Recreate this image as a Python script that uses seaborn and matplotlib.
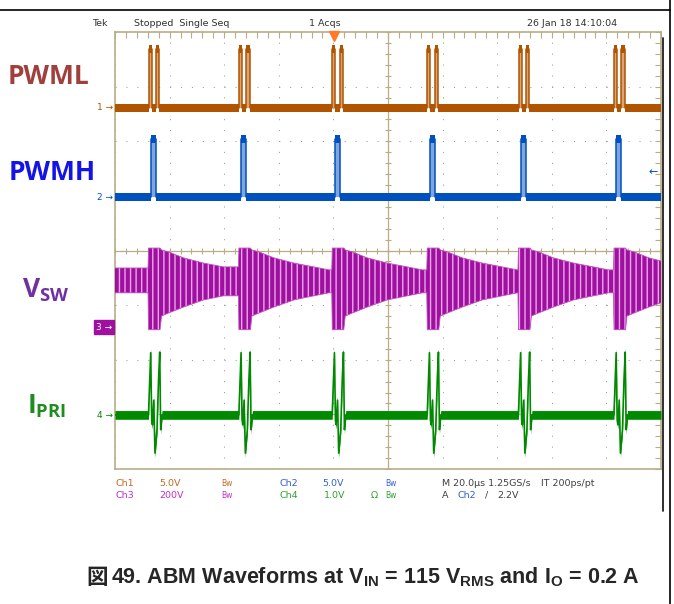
import numpy as np
import seaborn as sns
import matplotlib.pyplot as plt
from matplotlib.lines import Line2D

# ---- values read off the scope shot ----
# switching events, div from the left edge of the screen (centre of each PWMH pulse)
event_div = [0.705, 2.36, 4.07, 5.81, 7.48, 9.23]
trigger_div = 4.01

# ground level of each trace (div from screen centre) and volts per div
ch_pos = [2.61, 0.98, -1.40, -3.01]
ch_vdiv = [5.0, 5.0, 200.0, 1.0]

# PWML: two short pulses around every event (start / end offset in div)
pwml_start = [-0.088, 0.046]
pwml_end = [-0.033, 0.106]
pwml_high = 5.4
pwml_noise = 0.34

# PWMH: one pulse per event, between the two PWML pulses
pwmh_start = [-0.046]
pwmh_end = [0.046]
pwmh_high = 5.3
pwmh_noise = 0.34

# VSW ringing envelope after each event (offset in div, volts)
vsw_t = [0.147, 0.275, 0.55, 0.916, 1.28, 1.56]
vsw_top = [282, 275, 253, 234, 220, 209]
vsw_bot = [40, 51, 73, 99, 114, 125]
vsw_idle = [125, 216]       # bottom / top before the first burst
vsw_swing = [-10, 289]      # full swing while switching
vsw_swing_t = [-0.09, 0.12]

# IPRI spike around each event (offset in div, volts on ch4)
ipri_t = [-0.092, -0.051, -0.033, -0.020, 0.005, 0.027, 0.064, 0.092, 0.114, 0.132, 0.156]
ipri_v = [0.0, 1.14, -0.09, -0.18, 0.27, -0.70, -0.27, 0.64, 1.15, -0.27, 0.0]
ipri_noise = 0.08

# readout text
header = ["Tek", "Stopped  Single Seq", "1 Acqs", "26 Jan 18 14:10:04"]

sns.set_style("white")
plt.rcParams['font.family'] = ['DejaVu Sans']
plt.rcParams['mathtext.fontset'] = 'custom'
plt.rcParams['mathtext.rm'] = 'Liberation Sans:bold'
plt.rcParams['mathtext.bf'] = 'Open Sans:bold'
plt.rcParams['hatch.linewidth'] = 1.0

W, H = 674, 604


def fx(px):
    return px / W


def fy(py):
    return 1 - py / H


C1, C2, C3, C4 = '#b05400', '#0050c0', '#a010a0', '#008a00'
TAN = '#b8ae86'

fig = plt.figure(figsize=(W / 100, H / 100), dpi=100)
ax = fig.add_axes([fx(115), fy(469), 546 / W, 437 / H])
ax.set_xlim(0, 10)
ax.set_ylim(-4, 4)

# graticule
ax.set_xticks(np.arange(0, 11, 1))
ax.set_yticks(np.arange(-4, 5, 1))
ax.set_xticks(np.arange(0, 10.01, 0.2), minor=True)
ax.set_yticks(np.arange(-4, 4.01, 0.2), minor=True)
ax.tick_params(which='both', direction='in', length=4, width=0.8, color=TAN,
               top=True, right=True, labelbottom=False, labelleft=False)
ax.grid(True, which='major', color='#9c9c9c', linestyle=(0, (1, 9.48)), linewidth=0.75)
for s in ax.spines.values():
    s.set_color(TAN)
    s.set_linewidth(1.2)
ax.axhline(0, color=TAN, lw=0.9, zorder=1)
ax.axvline(5, color=TAN, lw=0.9, zorder=1)
minor = np.arange(0, 10.01, 0.2)
ax.plot(minor, np.zeros_like(minor), ls='none', marker='|', ms=5, mew=0.8, color=TAN, zorder=1)
minor_y = np.arange(-4, 4.01, 0.2)
ax.plot(np.full_like(minor_y, 5), minor_y, ls='none', marker='_', ms=5, mew=0.8, color=TAN, zorder=1)


def logic_trace(starts, ends, high):
    xs, ys = [0.0], [0.0]
    for e in event_div:
        for s, f in zip(starts, ends):
            xs += [e + s, e + s, e + f, e + f]
            ys += [0.0, high, high, 0.0]
    xs.append(10.0)
    ys.append(0.0)
    return np.array(xs), np.array(ys)


def draw_logic(starts, ends, high, noise, pos, vdiv, color, light):
    xs, ys = logic_trace(starts, ends, high)
    y = pos + ys / vdiv
    n = noise / vdiv
    ax.fill_between(xs, y - n, y + n, color=color, lw=0, zorder=3)
    for e in event_div:
        for s, f in zip(starts, ends):
            ax.fill_between([e + s, e + f], pos, pos + high / vdiv, color=light, lw=0, zorder=2)
    sns.lineplot(x=xs, y=y, sort=False, estimator=None, color=color, lw=1.1, ax=ax, zorder=4)


draw_logic(pwml_start, pwml_end, pwml_high, pwml_noise, ch_pos[0], ch_vdiv[0], C1, '#d9a577')
draw_logic(pwmh_start, pwmh_end, pwmh_high, pwmh_noise, ch_pos[1], ch_vdiv[1], C2, '#7fa6dc')

# VSW envelope
xs, lo, hi = [0.0], [vsw_idle[0]], [vsw_idle[1]]
nxt = event_div[1:] + [12.0]
for e, n in zip(event_div, nxt):
    xs += [e + vsw_swing_t[0] - 0.01, e + vsw_swing_t[0], e + vsw_swing_t[1]]
    lo += [lo[-1], vsw_swing[0], vsw_swing[0]]
    hi += [hi[-1], vsw_swing[1], vsw_swing[1]]
    for t, a, b in zip(vsw_t, vsw_top, vsw_bot):
        if e + t < n + vsw_swing_t[0] - 0.01:
            xs.append(e + t)
            hi.append(a)
            lo.append(b)
xs = np.array(xs)
lo = ch_pos[2] + np.array(lo) / ch_vdiv[2]
hi = ch_pos[2] + np.array(hi) / ch_vdiv[2]
ax.fill_between(xs, lo, hi, facecolor=C3, edgecolor='#e9a6e9', hatch='|||', lw=0, zorder=3)
sns.lineplot(x=xs, y=hi, sort=False, estimator=None, color='#c050c0', lw=0.6, ax=ax, zorder=4)
sns.lineplot(x=xs, y=lo, sort=False, estimator=None, color='#c050c0', lw=0.6, ax=ax, zorder=4)

# IPRI
xs, ys = [0.0], [0.0]
for e in event_div:
    xs += [e + t for t in ipri_t]
    ys += ipri_v
xs.append(10.0)
ys.append(0.0)
xs = np.array(xs)
y4 = ch_pos[3] + np.array(ys) / ch_vdiv[3]
n4 = ipri_noise / ch_vdiv[3]
ax.fill_between(xs, y4 - n4, y4 + n4, color=C4, lw=0, zorder=3)
sns.lineplot(x=xs, y=y4, sort=False, estimator=None, color=C4, lw=1.2, ax=ax, zorder=4)
ax.set_xlabel('')
ax.set_ylabel('')

# trigger position marker
ax.plot([trigger_div], [3.93], marker='v', ms=7, color='#ff7a2a', mec='#ff7a2a', clip_on=False, zorder=6)

# channel ground markers
fig.text(fx(113), fy(108), '1 \u2192', color=C1, fontsize=6.5, ha='right', va='center')
fig.text(fx(113), fy(197), '2 \u2192', color=C2, fontsize=6.5, ha='right', va='center')
fig.text(fx(112), fy(327), '3 \u2192', color='white', fontsize=6.5, ha='right', va='center',
         bbox=dict(boxstyle='square,pad=0.25', fc=C3, ec=C3))
fig.text(fx(113), fy(415), '4 \u2192', color=C4, fontsize=6.5, ha='right', va='center')
fig.text(fx(658), fy(172), '\u2190', color=C2, fontsize=8, ha='right', va='center')

# header
for txt, x in zip(header, [92, 134, 309, 527]):
    fig.text(fx(x), fy(23), txt, fontsize=6.8, color='#303030', ha='left', va='center')

# readout
r1, r2 = 483, 495
fig.text(fx(115), fy(r1), 'Ch1', color='#c06a20', fontsize=6.8, va='center')
fig.text(fx(159), fy(r1), '5.0V', color='#c06a20', fontsize=6.8, va='center')
fig.text(fx(221), fy(r1), 'Bw', color='#c06a20', fontsize=5.5, va='center')
fig.text(fx(279), fy(r1), 'Ch2', color='#3060d0', fontsize=6.8, va='center')
fig.text(fx(322), fy(r1), '5.0V', color='#3060d0', fontsize=6.8, va='center')
fig.text(fx(385), fy(r1), 'Bw', color='#3060d0', fontsize=5.5, va='center')
fig.text(fx(442), fy(r1), 'M 20.0\u00b5s 1.25GS/s', color='#404040', fontsize=6.8, va='center')
fig.text(fx(541), fy(r1), 'IT 200ps/pt', color='#404040', fontsize=6.8, va='center')
fig.text(fx(115), fy(r2), 'Ch3', color='#c030c0', fontsize=6.8, va='center')
fig.text(fx(159), fy(r2), '200V', color='#c030c0', fontsize=6.8, va='center')
fig.text(fx(221), fy(r2), 'Bw', color='#c030c0', fontsize=5.5, va='center')
fig.text(fx(279), fy(r2), 'Ch4', color='#30a030', fontsize=6.8, va='center')
fig.text(fx(324), fy(r2), '1.0V', color='#30a030', fontsize=6.8, va='center')
fig.text(fx(371), fy(r2), '\u03a9', color='#30a030', fontsize=6.8, va='center')
fig.text(fx(385), fy(r2), 'Bw', color='#30a030', fontsize=5.5, va='center')
fig.text(fx(442), fy(r2), 'A', color='#404040', fontsize=6.8, va='center')
fig.text(fx(457), fy(r2), 'Ch2', color='#3060d0', fontsize=6.8, va='center')
fig.text(fx(485), fy(r2), '/', color='#404040', fontsize=6.8, va='center')
fig.text(fx(497), fy(r2), '2.2V', color='#404040', fontsize=6.8, va='center')

# signal names
fig.text(fx(49), fy(76), 'PWML', color='#a0403c', fontsize=19, family='Open Sans',
         weight='bold', ha='center', va='center')
fig.text(fx(52), fy(172), 'PWMH', color='#1414e6', fontsize=19, family='Open Sans',
         weight='bold', ha='center', va='center')
fig.text(fx(22), fy(290), r'$\mathbf{V}_{\mathbf{SW}}$', color='#7030a0', fontsize=19,
         ha='left', va='center')
fig.text(fx(27), fy(406), r'$\mathbf{I}_{\mathbf{PRI}}$', color='#1e8c1e', fontsize=19,
         ha='left', va='center')

# caption
fig.text(fx(86), fy(577), '\u56f3', family=['Noto Sans CJK JP'], weight='bold', fontsize=15.5,
         ha='left', va='center')
fig.text(fx(111), fy(577),
         r'49. ABM Waveforms at $\mathrm{V}_{\mathrm{IN}}$ = 115 $\mathrm{V}_{\mathrm{RMS}}$'
         r' and $\mathrm{I}_{\mathrm{O}}$ = 0.2 A',
         family='Liberation Sans', weight='bold', fontsize=15.5, ha='left', va='center')

# page / screenshot frame lines
fig.add_artist(Line2D([0, fx(670)], [fy(10), fy(10)], color='black', lw=1.2, transform=fig.transFigure))
fig.add_artist(Line2D([fx(670), fx(670)], [0, 1], color='black', lw=1.2, transform=fig.transFigure))
fig.add_artist(Line2D([fx(663), fx(663)], [fy(38), fy(511)], color='#202020', lw=1.3,
                      transform=fig.transFigure))

fig.savefig('out.png', dpi=100)
